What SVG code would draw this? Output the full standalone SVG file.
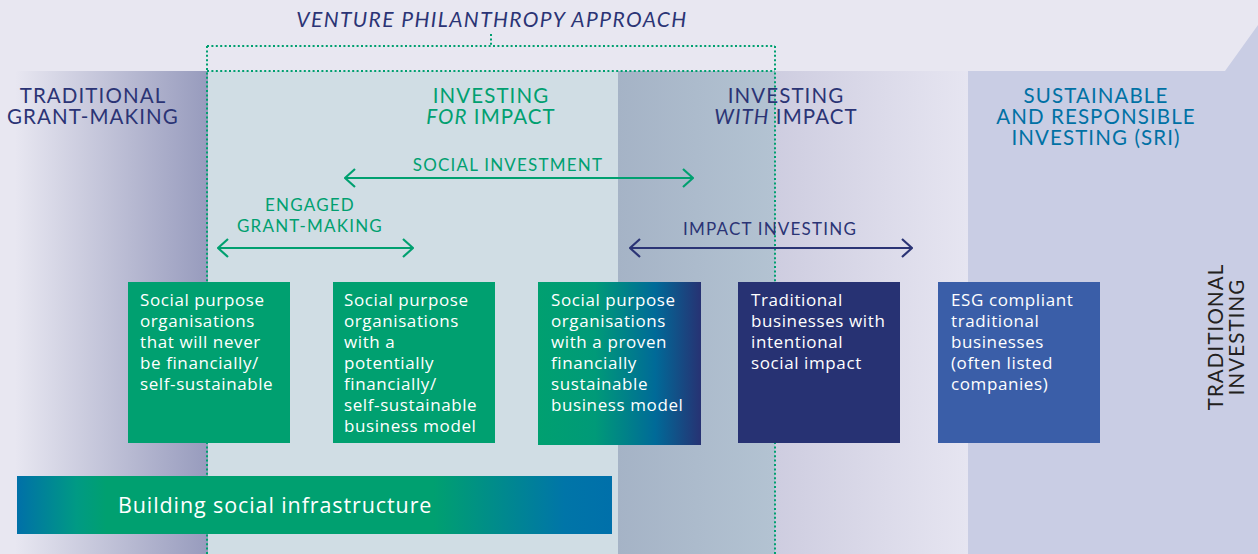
<svg xmlns="http://www.w3.org/2000/svg" width="1258" height="554" viewBox="0 0 1258 554">
<defs>
<linearGradient id="gTrad" x1="0" x2="1" y1="0" y2="0">
<stop offset="0" stop-color="#e8e7f1"/><stop offset="1" stop-color="#979bbd"/>
</linearGradient>
<linearGradient id="gWith1" x1="0" x2="1" y1="0" y2="0">
<stop offset="0" stop-color="#a5b3c6"/><stop offset="1" stop-color="#b3c3d2"/>
</linearGradient>
<linearGradient id="gWith2" x1="0" x2="1" y1="0" y2="0">
<stop offset="0" stop-color="#cecde0"/><stop offset="1" stop-color="#e6e5f1"/>
</linearGradient>
<linearGradient id="gBox3" x1="0" x2="1" y1="0" y2="0">
<stop offset="0" stop-color="#00a070"/><stop offset="0.35" stop-color="#009a78"/><stop offset="0.72" stop-color="#006a98"/><stop offset="1" stop-color="#273273"/>
</linearGradient>
<linearGradient id="gInfra" x1="0" x2="1" y1="0" y2="0">
<stop offset="0" stop-color="#0070a8"/><stop offset="0.1" stop-color="#009a84"/><stop offset="0.15" stop-color="#00a070"/><stop offset="0.7" stop-color="#00a070"/><stop offset="0.92" stop-color="#0075a8"/><stop offset="1" stop-color="#0070aa"/>
</linearGradient>
<marker id="chevG" viewBox="0 0 12 20" refX="11" refY="10" markerWidth="12" markerHeight="20" markerUnits="userSpaceOnUse" orient="auto-start-reverse">
<path d="M1 1 L11 10 L1 19" fill="none" stroke="#00a070" stroke-width="2.2"/>
</marker>
<marker id="chevN" viewBox="0 0 12 20" refX="11" refY="10" markerWidth="12" markerHeight="20" markerUnits="userSpaceOnUse" orient="auto-start-reverse">
<path d="M1 1 L11 10 L1 19" fill="none" stroke="#2b3475" stroke-width="2.2"/>
</marker>
</defs>
<style>
text{font-family:"Lato","Noto Sans",sans-serif}
.hd{font-size:20.5px;text-anchor:middle;letter-spacing:1.1px}
.sub{font-size:17px;text-anchor:middle;letter-spacing:1.2px}
.navy{fill:#2b3475}
.green{fill:#00a070}
.blue{fill:#0071a4}
.bx{font-family:"Open Sans","Noto Sans",sans-serif;font-size:17px;letter-spacing:0.6px;fill:#ffffff}
.dot{fill:none;stroke:#00a070;stroke-width:2;stroke-dasharray:2 2.4}
.arrG{stroke:#00a070;stroke-width:2.2;fill:none;marker-start:url(#chevG);marker-end:url(#chevG)}
.arrN{stroke:#2b3475;stroke-width:2.2;fill:none;marker-start:url(#chevN);marker-end:url(#chevN)}
</style>
<rect x="0" y="0" width="1258" height="554" fill="#e8e7f1"/>
<g id="bands">
<rect x="15" y="71" width="193" height="483" fill="url(#gTrad)"/>
<rect x="208" y="71" width="410" height="483" fill="#d0dde4"/>
<rect x="618" y="71" width="157" height="483" fill="url(#gWith1)"/>
<rect x="775" y="71" width="193" height="483" fill="url(#gWith2)"/>
<polygon points="968,71 1225,71 1258,25 1258,554 968,554" fill="#c9cde4"/>
</g>
<g id="vp-frame">
<path class="dot" d="M207 46 H775 M207 71 H775 M207 46 V554 M775 46 V554 M491 34 V46"/>
<text x="492" y="27" class="navy" style="font-size:21px;font-style:italic;text-anchor:middle;letter-spacing:1.4px">VENTURE PHILANTHROPY APPROACH</text>
</g>
<g id="h-trad">
<text class="hd navy" x="93" y="103">TRADITIONAL</text>
<text class="hd navy" x="93" y="124">GRANT-MAKING</text>
</g>
<g id="h-for">
<text class="hd green" x="491" y="103">INVESTING</text>
<text class="hd green" x="491" y="124"><tspan font-style="italic">FOR</tspan> IMPACT</text>
</g>
<g id="h-with">
<text class="hd navy" x="786" y="103">INVESTING</text>
<text class="hd navy" x="786" y="124"><tspan font-style="italic">WITH</tspan> IMPACT</text>
</g>
<g id="h-sri">
<text class="hd blue" x="1096" y="103">SUSTAINABLE</text>
<text class="hd blue" x="1096" y="124">AND RESPONSIBLE</text>
<text class="hd blue" x="1096" y="145">INVESTING (SRI)</text>
</g>
<g id="h-tradinv">
<text class="hd" fill="#231f20" transform="translate(1223,337) rotate(-90)"><tspan x="0" y="0">TRADITIONAL</tspan><tspan x="0" y="21">INVESTING</tspan></text>
</g>
<g id="connectors">
<line class="arrG" x1="345" y1="178" x2="693" y2="178"/>
<line class="arrG" x1="218" y1="248" x2="413" y2="248"/>
<line class="arrN" x1="630" y1="248" x2="912" y2="248"/>
</g>
<g id="l-social">
<text class="sub green" x="508" y="171">SOCIAL INVESTMENT</text>
</g>
<g id="l-engaged">
<text class="sub green" x="310" y="211">ENGAGED</text>
<text class="sub green" x="310" y="232">GRANT-MAKING</text>
</g>
<g id="l-impact">
<text class="sub navy" x="770" y="235">IMPACT INVESTING</text>
</g>
<g id="box1">
<rect x="128" y="282" width="162" height="161" fill="#00a070"/>
<text class="bx"><tspan x="140" y="306">Social purpose</tspan><tspan x="140" y="327">organisations</tspan><tspan x="140" y="348">that will never</tspan><tspan x="140" y="369">be financially/</tspan><tspan x="140" y="390">self-sustainable</tspan></text>
</g>
<g id="box2">
<rect x="333" y="282" width="162" height="161" fill="#00a070"/>
<text class="bx"><tspan x="344" y="306">Social purpose</tspan><tspan x="344" y="327">organisations</tspan><tspan x="344" y="348">with  a</tspan><tspan x="344" y="369">potentially</tspan><tspan x="344" y="390">financially/</tspan><tspan x="344" y="411">self-sustainable</tspan><tspan x="344" y="432">business model</tspan></text>
</g>
<g id="box3">
<rect x="538" y="282" width="163" height="163" fill="url(#gBox3)"/>
<text class="bx"><tspan x="551" y="306">Social purpose</tspan><tspan x="551" y="327">organisations</tspan><tspan x="551" y="348">with  a proven</tspan><tspan x="551" y="369">financially</tspan><tspan x="551" y="390">sustainable</tspan><tspan x="551" y="411">business model</tspan></text>
</g>
<g id="box4">
<rect x="738" y="282" width="162" height="161" fill="#273273"/>
<text class="bx"><tspan x="751" y="306">Traditional</tspan><tspan x="751" y="327">businesses with</tspan><tspan x="751" y="348">intentional</tspan><tspan x="751" y="369">social impact</tspan></text>
</g>
<g id="box5">
<rect x="938" y="282" width="162" height="161" fill="#3a5ea8"/>
<text class="bx"><tspan x="951" y="306">ESG compliant</tspan><tspan x="951" y="327">traditional</tspan><tspan x="951" y="348">businesses</tspan><tspan x="951" y="369">(often listed</tspan><tspan x="951" y="390">companies)</tspan></text>
</g>
<g id="infra">
<rect x="17" y="476" width="595" height="58" fill="url(#gInfra)"/>
<text x="118" y="513" style="font-family:'Open Sans','Noto Sans',sans-serif;font-size:21.5px;letter-spacing:0.9px;fill:#ffffff">Building social infrastructure</text>
</g>
</svg>
